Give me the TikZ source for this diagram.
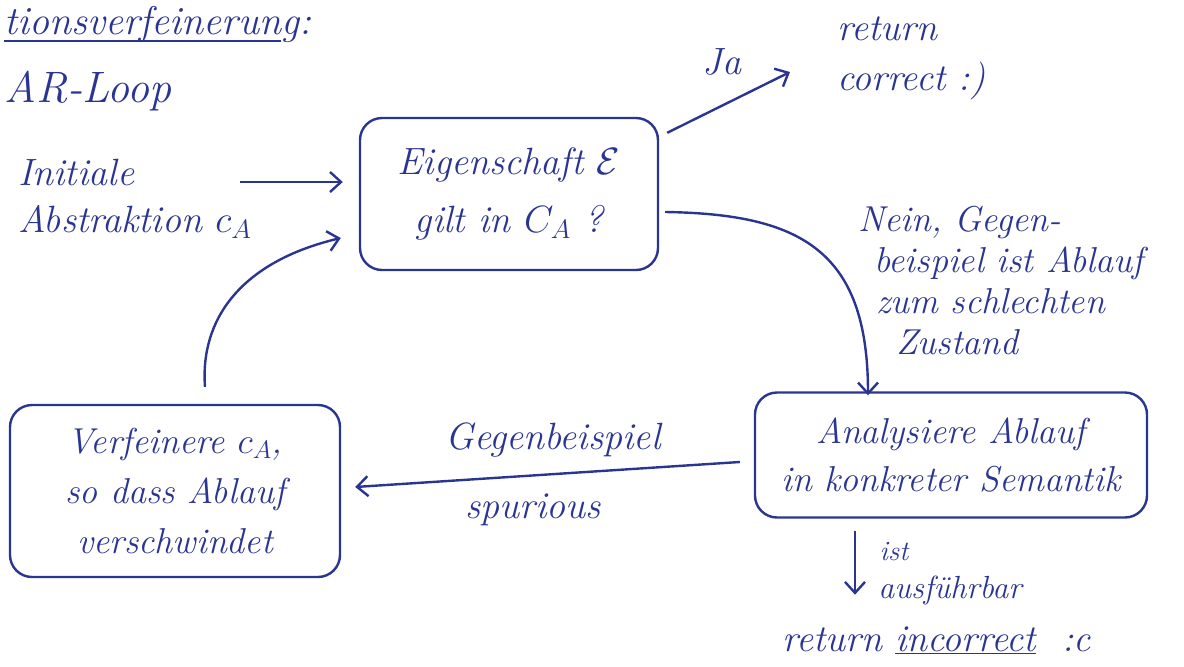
\documentclass[tikz,border=0pt]{standalone}
\usepackage{fix-cm}
\usetikzlibrary{arrows.meta,calc}
\definecolor{ink}{RGB}{42,52,145}
\begin{document}
\begin{tikzpicture}[x=1pt,y=-1pt,
  every node/.style={text=ink,font=\fontsize{38pt}{56pt}\selectfont\itshape,inner sep=0pt},
  box/.style={draw=ink,line width=2.4pt,rounded corners=22pt,align=center},
  lbl/.style={align=left},
  arr/.style={draw=ink,line width=2.4pt,-{Straight Barb[length=11pt,width=20pt,line width=2.4pt]}},
  ln/.style={draw=ink,line width=2.4pt}]
\useasboundingbox (0,0) rectangle (1184,667);

% heading
\node[anchor=base west,font=\fontsize{40pt}{50pt}\selectfont\itshape] (title) at (4,34) {tionsverfeinerung:};
\draw[ln] ([yshift=-7pt]title.base west) -- ([yshift=-7pt,xshift=-30pt]title.base east);
\node[anchor=base west,font=\fontsize{44pt}{50pt}\selectfont\itshape] (loop) at (4,102) {AR-Loop};

% nodes
\node[lbl,anchor=west,font=\fontsize{38pt}{47pt}\selectfont\itshape] (init) at (18,199) {Initiale\\Abstraktion $c_A$};
\node[box,minimum width=298pt,minimum height=152pt,font=\fontsize{38pt}{58pt}\selectfont\itshape] (check) at (509,194)
  {Eigenschaft $\mathcal{E}$\\gilt in $C_A$ ?};
\node[box,minimum width=392pt,minimum height=125pt,font=\fontsize{36pt}{48pt}\selectfont\itshape] (analyse) at (951,455)
  {Analysiere Ablauf\\in konkreter Semantik};
\node[box,minimum width=330pt,minimum height=172pt,font=\fontsize{36pt}{50pt}\selectfont\itshape] (refine) at (175,491)
  {Verfeinere $c_A$,\\so dass Ablauf\\verschwindet};
\node[lbl,anchor=west,font=\fontsize{38pt}{50pt}\selectfont\itshape] (retc) at (837,58) {return\\correct :)};
\node[anchor=west] (retinc) at (782,640) {return \underline{incorrect}\ \ :c};

% edge labels
\node (ja) at (722,62) {Ja};
\node[lbl,anchor=north west,font=\fontsize{36pt}{41pt}\selectfont\itshape] (nein) at (858,206)
  {Nein, Gegen-\\\hspace*{16pt}beispiel ist Ablauf\\\hspace*{18pt}zum schlechten\\\hspace*{38pt}Zustand};
\node (gegen) at (553,440) {Gegenbeispiel};
\node (spur) at (533,510) {spurious};
\node[font=\fontsize{28pt}{28pt}\selectfont\itshape] (ist) at (894,552) {ist};
\node[font=\fontsize{32pt}{32pt}\selectfont\itshape] (ausf) at (950,590) {ausführbar};

% connectors
\coordinate (jaend) at (790,72);
\draw[arr] ([xshift=-12pt]init.east |- 0,182) -- ([xshift=-16pt]check.west |- 0,182);
\draw[arr] ([xshift=8pt,yshift=-16pt]check.north east) -- (jaend);
\draw[arr] ([xshift=6pt,yshift=-18pt]check.east) .. controls (800,214) and (868,250) .. ([xshift=-83pt,yshift=-4pt]analyse.north);
\draw[arr] ([xshift=-14pt,yshift=-7pt]analyse.west) -- ([xshift=14pt,yshift=4pt]refine.east);
\draw[arr] ([xshift=30pt,yshift=17pt]refine.north) .. controls (200,320) and (240,262) .. ([xshift=-18pt,yshift=-44pt]check.west);
\draw[arr] ([xshift=-96pt,yshift=-12pt]analyse.south) -- ([xshift=-96pt,yshift=-76pt]analyse.south);
\end{tikzpicture}
\end{document}
